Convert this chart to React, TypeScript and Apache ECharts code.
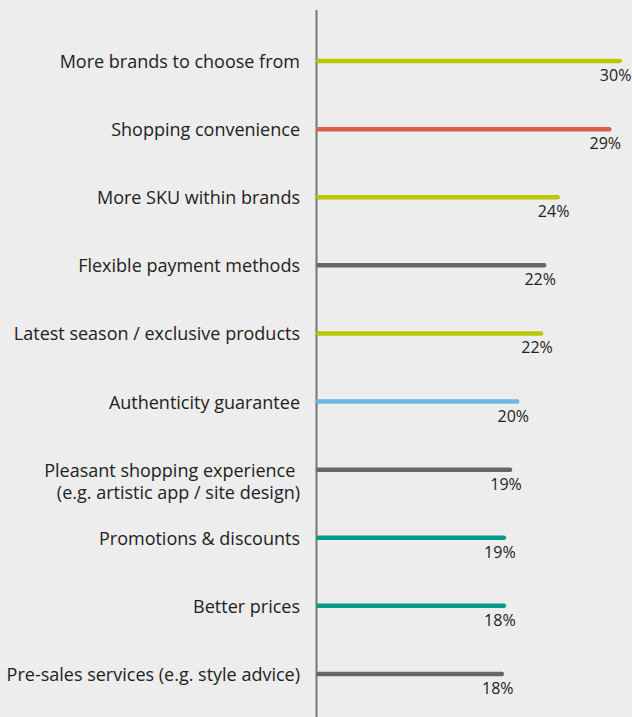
import React, { useEffect, useRef } from "react";
import * as echarts from "echarts";

const categories = [
  "More brands to choose from",
  "Shopping convenience",
  "More SKU within brands",
  "Flexible payment methods",
  "Latest season / exclusive products",
  "Authenticity guarantee",
  "\nPleasant shopping experience \n(e.g. artistic app / site design)",
  "Promotions & discounts",
  "Better prices",
  "Pre-sales services (e.g. style advice)",
];
const values = [29.6, 28.6, 23.6, 22.3, 22.0, 19.7, 19.0, 18.4, 18.4, 18.2];
const valueLabels = ["30%", "29%", "24%", "22%", "22%", "20%", "19%", "19%", "18%", "18%"];
const barColors = [
  "#bcc600",
  "#d9604f",
  "#bcc600",
  "#666666",
  "#bcc600",
  "#6cb9dd",
  "#666666",
  "#009a8a",
  "#009a8a",
  "#666666",
];

export default function App() {
  const ref = useRef<HTMLDivElement>(null);
  useEffect(() => {
    if (!ref.current) return;
    const chart = echarts.init(ref.current, null, { renderer: "svg" });
    const font = "'Open Sans', 'Noto Sans', sans-serif";
    chart.setOption({
      animation: false,
      backgroundColor: "#ededed",
      grid: { left: 316, right: 6, top: 27, bottom: 9, containLabel: false },
      xAxis: {
        type: "value",
        min: 0,
        max: 30,
        show: false,
      },
      yAxis: {
        type: "category",
        inverse: true,
        data: categories,
        axisLine: { show: false },
        axisTick: { show: false },
        splitLine: { show: false },
        axisLabel: {
          margin: 16,
          color: "#222222",
          fontFamily: font,
          fontSize: 18,
          lineHeight: 22,
          align: "right",
        },
      },
      graphic: [
        {
          type: "line",
          z: 1,
          shape: { x1: 316.5, y1: 10, x2: 316.5, y2: 717 },
          style: { stroke: "#777777", lineWidth: 2 },
        },
      ],
      series: [
        {
          type: "bar",
          z: 3,
          barWidth: 4.5,
          data: values.map((v, i) => ({
            value: v,
            itemStyle: { color: barColors[i], borderRadius: 2.25 },
          })),
          label: {
            show: true,
            position: ["100%", "50%"],
            align: "right",
            verticalAlign: "middle",
            offset: [9.5, 14],
            color: "#222222",
            fontFamily: font,
            fontSize: 16,
            formatter: (p: any) => valueLabels[p.dataIndex],
          },
        },
      ],
    });
    return () => chart.dispose();
  }, []);
  return <div ref={ref} style={{ width: 632, height: 717, position: "absolute", left: 0, top: 0 }} />;
}
